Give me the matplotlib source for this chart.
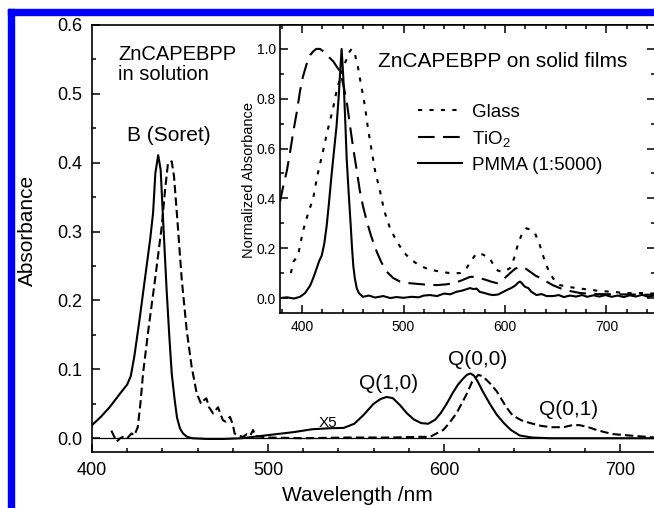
import matplotlib
matplotlib.use('Agg')
import matplotlib.pyplot as plt
from matplotlib.patches import Rectangle
from matplotlib.ticker import MultipleLocator, FormatStrFormatter

plt.rcParams['font.family'] = 'Liberation Sans'
plt.rcParams['mathtext.fontset'] = 'custom'
plt.rcParams['mathtext.rm'] = 'Liberation Sans'
plt.rcParams['mathtext.it'] = 'Liberation Sans:italic'

# ZnCAPEBPP in solution (main plot), solid trace
sol_wl = [400, 405, 410, 416, 420, 422, 424, 427, 430, 433, 434.7, 436, 437.6, 439, 440.5,
          442.4, 444, 445.3, 447, 448.3, 450, 451.7, 454, 457, 465, 475, 485, 495, 505, 515,
          525, 535, 543, 549, 554, 560, 564, 567.5, 571, 575, 579, 583, 587, 591, 595, 598,
          601.5, 605, 608, 611, 613, 615, 617, 619, 622, 626, 630, 634, 638, 643, 650, 660,
          690, 720]
sol_abs = [0.019, 0.031, 0.045, 0.065, 0.078, 0.090, 0.118, 0.172, 0.230, 0.288, 0.327, 0.385,
           0.411, 0.390, 0.312, 0.215, 0.145, 0.094, 0.055, 0.030, 0.014, 0.007, 0.002, 0.0,
           -0.001, -0.001, 0.0, 0.003, 0.006, 0.009, 0.013, 0.0145, 0.015, 0.021, 0.033, 0.050,
           0.057, 0.060, 0.058, 0.048, 0.036, 0.027, 0.022, 0.021, 0.027, 0.036, 0.050, 0.066,
           0.078, 0.087, 0.092, 0.094, 0.091, 0.083, 0.068, 0.050, 0.034, 0.022, 0.012, 0.004,
           0.001, 0.0, 0.0, 0.0]

# ZnCAPEBPP in solution, dashed trace
dash_wl = [411, 412.5, 414, 416, 417.6, 420, 422.5, 424, 426, 427.5, 429, 432, 435.8, 439.6,
           441.5, 443.2, 445.3, 446.6, 448.5, 451, 453.8, 456.6, 459.5, 462, 463.5, 465, 466.5,
           468.8, 470, 471.6, 473, 474.4, 476, 478.4, 480, 481, 483, 485.8, 488, 490, 491.5,
           493, 500, 520, 545, 570, 585, 592, 599.6, 603, 607, 610, 613, 616, 619.5, 622, 626,
           630, 633, 636, 639, 644, 649, 655, 661, 667.8, 673, 677, 682, 686.7, 691, 696, 705,
           715, 720]
dash_abs = [0.011, 0.003, -0.005, 0.0, 0.002, 0.0, 0.007, 0.004, 0.016, 0.05, 0.094, 0.157,
            0.23, 0.307, 0.36, 0.40, 0.402, 0.38, 0.317, 0.23, 0.157, 0.104, 0.065, 0.050, 0.055,
            0.058, 0.045, 0.036, 0.040, 0.045, 0.035, 0.026, 0.024, 0.031, 0.020, 0.007, 0.004,
            0.002, 0.006, 0.004, 0.012, 0.003, 0.001, 0.0, 0.001, 0.001, 0.002, 0.002, 0.012,
            0.022, 0.036, 0.05, 0.065, 0.082, 0.092, 0.09, 0.08, 0.068, 0.055, 0.043, 0.033,
            0.026, 0.022, 0.018, 0.016, 0.016, 0.019, 0.019, 0.016, 0.012, 0.009, 0.006, 0.004,
            0.002, 0.001]

# Solid films (inset): PMMA
pmma_wl = [378.3, 385, 392, 398, 403, 408, 411, 414.5, 417, 419.4, 422, 424.3, 426.5, 429,
           431.5, 434, 436, 437.4, 439, 440.2, 441.4, 442.7, 444, 446, 448, 449.3, 450.5, 452,
           453.9, 456, 460, 466, 472, 480, 487, 493, 500, 508, 515, 520, 526, 533, 540, 546,
           552, 558, 565.5, 569, 572, 575, 580, 584, 588, 593, 597, 601.6, 606, 610, 613,
           614.8, 616.5, 619.7, 623, 626, 631, 636, 641, 647.6, 653, 658, 664, 670, 676, 681,
           687, 693, 699, 705, 711, 717, 723, 729, 735, 741, 747]
pmma_abs = [0.0, 0.003, -0.002, 0.005, 0.02, 0.05, 0.08, 0.12, 0.15, 0.17, 0.22, 0.29, 0.38,
            0.49, 0.59, 0.69, 0.80, 0.895, 1.0, 0.92, 0.83, 0.70, 0.56, 0.42, 0.29, 0.20, 0.13,
            0.08, 0.04, 0.02, 0.005, 0.01, 0.002, 0.008, 0.0, 0.004, 0.001, 0.005, 0.003, 0.01,
            0.012, 0.008, 0.018, 0.015, 0.025, 0.03, 0.04, 0.036, 0.038, 0.025, 0.02, 0.015,
            0.012, 0.014, 0.022, 0.032, 0.04, 0.05, 0.062, 0.066, 0.06, 0.045, 0.04, 0.025,
            0.012, 0.016, 0.008, 0.008, 0.012, 0.004, 0.01, 0.006, 0.012, 0.005, 0.011, 0.006,
            0.012, 0.005, 0.01, 0.004, 0.011, 0.006, 0.013, 0.005, 0.01]

# Solid films (inset): glass
glass_wl = [389, 391.5, 396, 401, 406, 411, 415, 420.7, 425, 430.5, 434, 437.4, 441, 444, 447,
            449, 452, 455, 458, 462, 465, 468.7, 472, 476.8, 481, 486.7, 493, 499.8, 507, 516,
            525, 536, 546, 555.7, 562, 568.5, 572, 578, 585, 589, 593, 598, 605, 609, 613, 617,
            621, 625, 629.6, 634.5, 639.4, 644, 649, 654, 662, 670.6, 680, 690, 705, 720, 735,
            747]
glass_abs = [0.10, 0.146, 0.17, 0.27, 0.34, 0.40, 0.49, 0.59, 0.67, 0.76, 0.83, 0.88, 0.93,
             0.96, 0.99, 1.0, 0.98, 0.93, 0.86, 0.77, 0.68, 0.59, 0.51, 0.43, 0.35, 0.28, 0.23,
             0.186, 0.155, 0.13, 0.115, 0.106, 0.10, 0.10, 0.12, 0.16, 0.18, 0.175, 0.16, 0.13,
             0.11, 0.105, 0.12, 0.16, 0.22, 0.26, 0.28, 0.275, 0.26, 0.21, 0.146, 0.10, 0.07,
             0.052, 0.045, 0.04, 0.035, 0.03, 0.025, 0.02, 0.02, 0.018]

# Solid films (inset): TiO2
tio2_wl = [378.3, 381, 385, 388, 391.5, 395, 398, 401, 404.6, 408, 411, 414, 417.7, 421, 424,
           427, 430.8, 434, 437.4, 440.5, 444, 447, 450.5, 454, 457, 460, 463.7, 468, 473.6,
           478, 483.4, 490, 496.6, 505, 516, 525, 533, 542, 550, 558, 565.5, 571, 577, 582,
           587, 592, 597, 601, 605, 610, 614.8, 619, 624.6, 630, 636, 641, 647, 654, 662, 674,
           690, 710, 730, 747]
tio2_abs = [0.386, 0.44, 0.51, 0.58, 0.67, 0.75, 0.83, 0.89, 0.94, 0.975, 0.99, 1.0, 1.0, 0.99,
            0.98, 0.965, 0.95, 0.93, 0.91, 0.86, 0.79, 0.70, 0.60, 0.51, 0.43, 0.37, 0.31, 0.25,
            0.186, 0.145, 0.106, 0.08, 0.066, 0.06, 0.056, 0.053, 0.052, 0.055, 0.06, 0.072,
            0.085, 0.085, 0.078, 0.072, 0.065, 0.06, 0.07, 0.085, 0.10, 0.118, 0.125, 0.122,
            0.106, 0.09, 0.078, 0.066, 0.052, 0.04, 0.03, 0.02, 0.016, 0.015, 0.014, 0.013]

fig = plt.figure(figsize=(6.54, 5.08), dpi=100)

# blue frame on the left and top
fig.add_artist(Rectangle((8 / 654, 0), 6 / 654, 499 / 508, transform=fig.transFigure,
                         color='#0000ff', zorder=10))
fig.add_artist(Rectangle((8 / 654, 493 / 508), 646 / 654, 6 / 508, transform=fig.transFigure,
                         color='#0000ff', zorder=10))

# main plot (solution)
ax = fig.add_axes([92 / 654, 56 / 508, 562 / 654, 427 / 508])
ax.plot(sol_wl, sol_abs, color='black', lw=1.5)
ax.plot(dash_wl, dash_abs, color='black', lw=1.5, dashes=(4, 2))
ax.axhline(0, color='black', lw=0.9)
ax.set_xlim(400, 719.3)
ax.set_ylim(-0.02, 0.6)
ax.spines['right'].set_visible(False)
for s in ['left', 'bottom', 'top']:
    ax.spines[s].set_linewidth(1.2)
ax.xaxis.set_major_locator(MultipleLocator(100))
ax.xaxis.set_minor_locator(MultipleLocator(20))
ax.yaxis.set_major_locator(MultipleLocator(0.1))
ax.yaxis.set_minor_locator(MultipleLocator(0.05))
ax.yaxis.set_major_formatter(FormatStrFormatter('%.1f'))
ax.tick_params(which='both', direction='in', width=1.1, labelsize=13, pad=7)
ax.tick_params(which='major', length=6)
ax.tick_params(which='minor', length=3)
ax.set_xlabel('Wavelength /nm', fontsize=15)
ax.set_ylabel('Absorbance', fontsize=15)
ax.xaxis.set_label_coords(0.4715, -0.080)
ax.yaxis.set_label_coords(-0.098, 0.52)

ax.text(414.8, 0.571, 'ZnCAPEBPP\nin solution', fontsize=14.5, va='top', ha='left',
        linespacing=1.1)
ax.text(420, 0.440, 'B (Soret)', fontsize=15, va='center', ha='left')
ax.text(529, 0.022, 'X5', fontsize=11, va='center', ha='left')
ax.text(568.7, 0.080, 'Q(1,0)', fontsize=15, va='center', ha='center')
ax.text(619, 0.114, 'Q(0,0)', fontsize=15, va='center', ha='center')
ax.text(671, 0.041, 'Q(0,1)', fontsize=15, va='center', ha='center')

# inset (solid films)
axin = fig.add_axes([280 / 654, 195 / 508, 375 / 654, 288 / 508])
axin.plot(glass_wl, glass_abs, color='black', lw=1.5, dashes=(2, 3.5), label='Glass')
axin.plot(tio2_wl, tio2_abs, color='black', lw=1.5, dashes=(8, 4), label=r'TiO$_2$')
axin.plot(pmma_wl, pmma_abs, color='black', lw=1.5, label='PMMA (1:5000)')
axin.set_xlim(378.3, 747.8)
axin.set_ylim(-0.06, 1.096)
for s in axin.spines.values():
    s.set_linewidth(1.2)
axin.xaxis.set_major_locator(MultipleLocator(100))
axin.xaxis.set_minor_locator(MultipleLocator(20))
axin.yaxis.set_major_locator(MultipleLocator(0.2))
axin.yaxis.set_minor_locator(MultipleLocator(0.1))
axin.yaxis.set_major_formatter(FormatStrFormatter('%.1f'))
axin.tick_params(which='both', direction='in', top=True, right=True, width=1.1, labelsize=10)
axin.tick_params(axis='x', pad=5)
axin.tick_params(axis='y', pad=3)
axin.tick_params(which='major', length=6)
axin.tick_params(which='minor', length=3)
axin.set_ylabel('Normalized Absorbance', fontsize=10.5)
axin.yaxis.set_label_coords(-0.064, 0.462)
axin.text(474.9, 0.948, 'ZnCAPEBPP on solid films', fontsize=15, va='center', ha='left')
axin.legend(loc='upper left', bbox_to_anchor=(0.368, 0.726), frameon=False, fontsize=13.5,
            handlelength=2.35, handletextpad=0.55, labelspacing=0.42, borderpad=0,
            borderaxespad=0)

fig.savefig('out.png', dpi=100)
